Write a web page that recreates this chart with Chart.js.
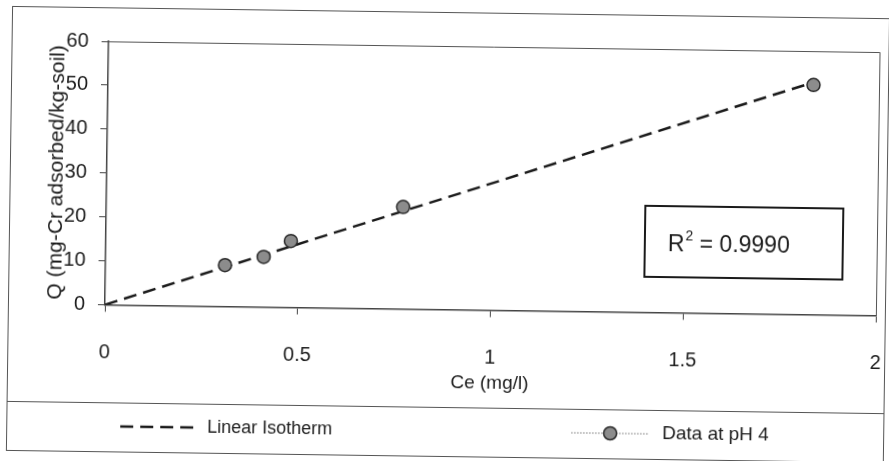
<!DOCTYPE html>
<html>
<head>
<meta charset="utf-8">
<script src="https://cdn.jsdelivr.net/npm/chart.js@4/dist/chart.umd.min.js"></script>
<style>
  html, body { margin: 0; padding: 0; background: #fff; overflow: hidden; }
  #wrap { width: 889px; height: 461px; transform: rotate(0.8deg); transform-origin: 50% 50%; }
  canvas { display: block; }
</style>
</head>
<body>
<div id="wrap"><canvas id="c" width="889" height="461"></canvas></div>
<script>
// Measured adsorption data (Ce in mg/l, Q in mg-Cr/kg-soil)
const ceData = [0.31, 0.41, 0.48, 0.77, 1.83];
const qData  = [9.4, 11.4, 15.1, 23.2, 52.3];

// Linear isotherm fit endpoints
const isoCe = [0, 1.83];
const isoQ  = [0, 52.9];

const xTicks = [0, 0.5, 1, 1.5, 2];
const yTicks = [0, 10, 20, 30, 40, 50, 60];

const rSquaredText = '0.9990';
const seriesNames = ['Linear Isotherm', 'Data at pH 4'];

const FONT = '"Liberation Sans", Arial, sans-serif';
const INK = '#1c1c1c';

const toPoints = (xs, ys) => xs.map((x, i) => ({ x, y: ys[i] }));

// Frame, plot border, R² box and the legend row
const decorations = {
  id: 'decorations',
  beforeDraw(chart) {
    const ctx = chart.ctx;
    ctx.save();
    ctx.fillStyle = '#fff';
    ctx.fillRect(0, 0, chart.width, chart.height);
    ctx.restore();
  },
  afterDraw(chart) {
    const { ctx, chartArea: a } = chart;
    ctx.save();

    // outer frame
    ctx.strokeStyle = '#555';
    ctx.lineWidth = 1;
    ctx.strokeRect(9.5, 12.5, 877, 444);

    // top and right edges of the plot area
    ctx.strokeStyle = '#555';
    ctx.beginPath();
    ctx.moveTo(a.left, a.top + 0.5);
    ctx.lineTo(a.right + 0.5, a.top + 0.5);
    ctx.lineTo(a.right + 0.5, a.bottom);
    ctx.stroke();

    // R² box
    ctx.strokeStyle = '#1a1a1a';
    ctx.lineWidth = 2;
    ctx.strokeRect(645, 203, 198, 71);
    ctx.fillStyle = INK;
    ctx.textBaseline = 'alphabetic';
    ctx.textAlign = 'left';
    ctx.font = '23px ' + FONT;
    let tx = 668;
    const ty = 248;
    ctx.fillText('R', tx, ty);
    tx += ctx.measureText('R').width;
    ctx.font = '14px ' + FONT;
    ctx.fillText('2', tx + 1, ty - 11);
    tx += ctx.measureText('2').width + 1;
    ctx.font = '23px ' + FONT;
    ctx.fillText(' = ' + rSquaredText, tx, ty);

    // legend separator
    ctx.strokeStyle = '#555';
    ctx.lineWidth = 1;
    ctx.beginPath();
    ctx.moveTo(9.5, 407.5);
    ctx.lineTo(886.5, 407.5);
    ctx.stroke();

    const ly = 431;
    // legend: dashed isotherm sample
    ctx.strokeStyle = '#1a1a1a';
    ctx.lineWidth = 2.5;
    ctx.setLineDash([13, 7]);
    ctx.beginPath();
    ctx.moveTo(123, ly);
    ctx.lineTo(197, ly);
    ctx.stroke();
    ctx.setLineDash([]);

    // legend: marker sample with thin dotted line
    ctx.strokeStyle = '#777';
    ctx.lineWidth = 1;
    ctx.setLineDash([1.5, 1.5]);
    ctx.beginPath();
    ctx.moveTo(574, ly);
    ctx.lineTo(652, ly);
    ctx.stroke();
    ctx.setLineDash([]);
    ctx.beginPath();
    ctx.arc(613, ly, 6.5, 0, Math.PI * 2);
    ctx.fillStyle = '#8c8c8c';
    ctx.fill();
    ctx.strokeStyle = '#2a2a2a';
    ctx.lineWidth = 1.5;
    ctx.stroke();

    ctx.fillStyle = INK;
    ctx.textBaseline = 'middle';
    ctx.font = '18px ' + FONT;
    ctx.fillText(seriesNames[0], 210, ly);
    ctx.font = '19px ' + FONT;
    ctx.fillText(seriesNames[1], 665, ly);

    ctx.restore();
  }
};

new Chart(document.getElementById('c'), {
  type: 'scatter',
  data: {
    datasets: [
      {
        label: seriesNames[1],
        data: toPoints(ceData, qData),
        order: 0,
        showLine: false,
        pointRadius: 6.5,
        pointBackgroundColor: '#8c8c8c',
        pointBorderColor: '#2a2a2a',
        pointBorderWidth: 1.5
      },
      {
        label: seriesNames[0],
        data: toPoints(isoCe, isoQ),
        order: 1,
        showLine: true,
        borderColor: '#1a1a1a',
        borderWidth: 2.5,
        borderDash: [13, 7],
        pointRadius: 0
      }
    ]
  },
  options: {
    responsive: false,
    animation: false,
    devicePixelRatio: 1,
    layout: { padding: { left: 0, top: 46, right: 12, bottom: 0 } },
    plugins: {
      legend: { display: false },
      tooltip: { enabled: false }
    },
    scales: {
      x: {
        type: 'linear',
        min: xTicks[0],
        max: xTicks[xTicks.length - 1],
        afterBuildTicks: s => { s.ticks = xTicks.map(v => ({ value: v })); },
        afterFit: s => { s.height = 151.5; s.paddingLeft = 0; s.paddingRight = 0; },
        ticks: {
          color: INK,
          padding: 29,
          maxRotation: 0,
          font: { family: FONT, size: 20 },
          callback: v => String(v)
        },
        grid: { drawOnChartArea: false, drawTicks: true, tickLength: 7, color: '#444', lineWidth: 1 },
        border: { display: true, color: '#444', width: 1.5 },
        title: {
          display: true,
          text: 'Ce (mg/l)',
          color: INK,
          font: { family: FONT, size: 19 },
          padding: { top: 0, bottom: 67 }
        }
      },
      y: {
        type: 'linear',
        min: yTicks[0],
        max: yTicks[yTicks.length - 1],
        afterBuildTicks: s => { s.ticks = yTicks.map(v => ({ value: v })); },
        afterFit: s => { s.width = 106; s.paddingTop = 0; s.paddingBottom = 0; },
        ticks: {
          color: INK,
          padding: 13,
          font: { family: FONT, size: 20 },
          callback: v => String(v)
        },
        grid: { drawOnChartArea: false, drawTicks: true, tickLength: 7, color: '#444', lineWidth: 1 },
        border: { display: true, color: '#444', width: 1.5 },
        title: {
          display: true,
          text: 'Q (mg-Cr adsorbed/kg-soil)',
          color: INK,
          font: { family: FONT, size: 21 },
          padding: { top: 44, bottom: 0 }
        }
      }
    }
  },
  plugins: [decorations]
});
</script>
</body>
</html>
